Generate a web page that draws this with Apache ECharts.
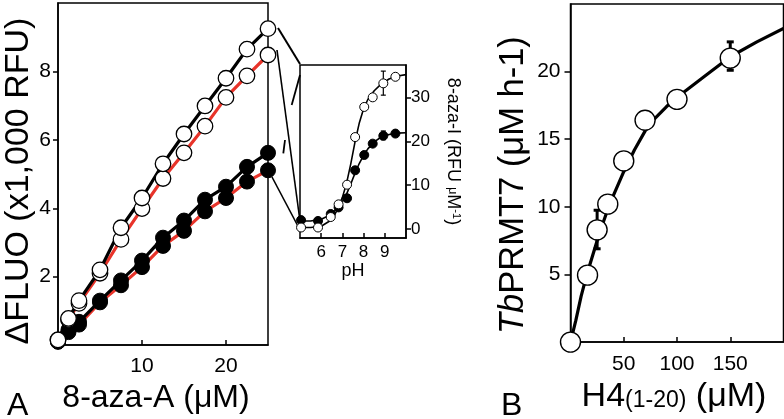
<!DOCTYPE html>
<html><head><meta charset="utf-8">
<script src="https://cdn.jsdelivr.net/npm/echarts@6/dist/echarts.min.js"></script>
<style>html,body{margin:0;padding:0;background:#fff}#c{width:784px;height:419px}</style>
</head><body><div id="c"></div>
<script>
const FONT = '"Liberation Sans", Arial, Helvetica, sans-serif';

// ---- Panel A: 8-aza-A titration ----
const aX = [0, 1.25, 2.5, 5, 7.5, 10, 12.5, 15, 17.5, 20, 22.5, 25];
const aOpenUpper = [0.15, 0.78, 1.3, 2.2, 3.43, 4.3, 5.3, 6.17, 6.99, 7.8, 8.65, 9.25];
const aOpenLower = [0.15, 0.75, 1.22, 2.1, 3.09, 3.99, 4.87, 5.62, 6.4, 7.24, 7.87, 8.48];
const aFilledUpper = [0.1, 0.45, 0.68, 1.3, 1.89, 2.47, 3.14, 3.64, 4.25, 4.63, 5.21, 5.62];
const aFilledLower = [0.1, 0.38, 0.6, 1.25, 1.75, 2.28, 2.9, 3.34, 3.91, 4.3, 4.78, 5.11];
const aXTicks = [10, 20];
const aYTicks = [2, 4, 6, 8];

// ---- Inset: pH dependence ----
const pH = [5.05, 5.85, 6.45, 6.82, 7.22, 7.6, 8.03, 8.43, 8.93, 9.5];
const insetOpen = [0.3, 0.3, 2.7, 5.6, 10.1, 21, 27.9, 30.1, 33.3, 34.8];
const insetFilled = [2.0, 1.8, 3.4, 4.9, 7.0, 13.4, 16.9, 19.5, 21.3, 21.8];
const insetErr = [[8.93, 30.6, 36.1], [8.93, 20.4, 22.4]];
const curvePH = [5.0, 5.5, 6.0, 6.4, 6.7, 7.0, 7.2, 7.4, 7.6, 7.8, 8.0, 8.2, 8.5, 8.8, 9.2, 9.6, 10.0];
const curveOpen = [0.3, 0.3, 0.6, 1.8, 3.8, 7.2, 10.5, 15, 20, 24.3, 27.5, 29.6, 31.6, 33, 34.3, 35, 35.3];
const curveFilled = [1.8, 1.8, 2.2, 3.1, 4.4, 6.2, 8.0, 10.3, 12.8, 15.0, 16.8, 18.3, 19.9, 20.9, 21.6, 21.9, 22.0];
const insetXTicks = [6, 7, 8, 9];
const insetYTicks = [0, 10, 20, 30];

// ---- Panel B: TbPRMT7 kinetics ----
const bX = [0, 16, 25, 35, 50, 70, 100, 150];
const bY = [0, 4.95, 8.3, 10.2, 13.4, 16.4, 17.95, 21.0];
const bErr = [[25, 6.9, 9.75], [150, 20.1, 22.2]];
const bCurveX = [0, 5, 10, 15, 20, 25, 30, 35, 40, 50, 60, 70, 80, 90, 100, 110, 125, 150, 175, 200];
const bCurveY = [0, 1.6, 3.4, 4.9, 6.2, 7.5, 8.7, 9.8, 10.8, 12.6, 14.2, 15.6, 16.6, 17.4, 18.1, 18.7, 19.6, 21.1, 22.2, 23.2];
const bXTicks = [50, 100, 150];
const bYTicks = [5, 10, 15, 20];

const zip = (xs, ys) => xs.map((x, i) => [x, ys[i]]);

function valAxis(o) {
  return {
    type: 'value', gridIndex: o.grid, min: o.min, max: o.max, position: o.position,
    splitLine: { show: false },
    axisLine: { show: true, onZero: false, lineStyle: { color: '#000', width: 1.5 } },
    axisTick: { show: true, inside: o.inside, length: o.tickLen || 5, customValues: o.ticks, lineStyle: { color: '#000', width: 1.5 } },
    axisLabel: { show: true, customValues: o.ticks, color: '#000', fontFamily: FONT, fontSize: o.fs, margin: o.margin },
    name: o.name, nameLocation: 'middle', nameGap: o.nameGap, nameRotate: o.nameRotate,
    nameTextStyle: Object.assign({ color: '#000', fontFamily: FONT, fontSize: o.nameFs }, o.nameStyle || {})
  };
}

function errSeries(xi, yi, data, cap, lw) {
  return {
    type: 'custom', xAxisIndex: xi, yAxisIndex: yi, data: data, z: 4, silent: true,
    encode: { x: 0, y: [1, 2] },
    renderItem: function (params, api) {
      const x = api.value(0), lo = api.value(1), hi = api.value(2);
      const p1 = api.coord([x, lo]), p2 = api.coord([x, hi]);
      const st = { stroke: '#000', lineWidth: lw };
      return { type: 'group', children: [
        { type: 'line', shape: { x1: p1[0], y1: p1[1], x2: p2[0], y2: p2[1] }, style: st },
        { type: 'line', shape: { x1: p1[0] - cap, y1: p1[1], x2: p1[0] + cap, y2: p1[1] }, style: st },
        { type: 'line', shape: { x1: p2[0] - cap, y1: p2[1], x2: p2[0] + cap, y2: p2[1] }, style: st }
      ]};
    }
  };
}

function lineS(xi, yi, data, color, w, z) {
  return { type: 'line', xAxisIndex: xi, yAxisIndex: yi, data: data, symbol: 'none', z: z || 2,
    lineStyle: { color: color, width: w }, silent: true };
}
function dotS(xi, yi, data, filled, size, bw, z) {
  return { type: 'scatter', xAxisIndex: xi, yAxisIndex: yi, data: data, symbol: 'circle', symbolSize: size, z: z || 3,
    itemStyle: { color: filled ? '#000' : '#fff', borderColor: '#000', borderWidth: bw, opacity: 1 }, silent: true };
}

const option = {
  animation: false,
  backgroundColor: '#fff',
  grid: [
    { left: 58, top: 3, width: 210, height: 346, show: true, borderColor: '#000', borderWidth: 1.5 },
    { left: 300, top: 65, width: 106, height: 173, show: true, borderColor: '#000', borderWidth: 1.5 },
    { left: 570.5, top: 4, width: 213, height: 346, show: true, borderColor: '#000', borderWidth: 1.5 }
  ],
  xAxis: [
    valAxis({ grid: 0, min: 0, max: 25, ticks: aXTicks, inside: true, fs: 21, margin: 11,
      name: '8-aza-A (μM)', nameGap: 31, nameFs: 32, nameStyle: { padding: [0, 14, 0, 0] } }),
    valAxis({ grid: 1, min: 5, max: 10, ticks: insetXTicks, inside: true, fs: 17, margin: 6,
      name: 'pH', nameGap: 20, nameFs: 18 }),
    valAxis({ grid: 2, min: 0, max: 200, ticks: bXTicks, inside: true, fs: 21, margin: 12,
      name: 'H4{s|(1-20)} (μM)', nameGap: 30, nameFs: 34,
      nameStyle: { padding: [0, 6, 0, 0], rich: { s: { fontSize: 23, fontFamily: FONT, color: '#000', padding: [7, 0, 0, 0] } } } })
  ],
  yAxis: [
    valAxis({ grid: 0, min: 0, max: 10, ticks: aYTicks, inside: false, fs: 21, margin: 7,
      name: 'ΔFLUO (x1,000 RFU)', nameGap: 20, nameFs: 34, nameStyle: { padding: [0, 14, 0, 0] } }),
    valAxis({ grid: 1, min: -2.1, max: 37.5, ticks: insetYTicks, inside: false, fs: 17, margin: 5, position: 'right',
      name: '8-aza-I (RFU {s|μ}M{sup|-1})', nameGap: 38, nameFs: 18, nameRotate: -90,
      nameStyle: { rich: {
        s: { fontSize: 13, fontFamily: FONT, color: '#000' },
        sup: { fontSize: 11, fontFamily: FONT, color: '#000', verticalAlign: 'top' } } } }),
    valAxis({ grid: 2, min: 0, max: 25, ticks: bYTicks, inside: false, fs: 21, margin: 10, tickLen: 6,
      name: '{i|Tb}PRMT7 (μM h-1)', nameGap: 40, nameFs: 34.5,
      nameStyle: { padding: [0, 24, 0, 0], rich: { i: { fontStyle: 'italic', fontSize: 34.5, fontFamily: FONT, color: '#000' } } } })
  ],
  series: [
    // Panel A lines
    lineS(0, 0, zip(aX, aFilledLower), '#e8342a', 3.2),
    lineS(0, 0, zip(aX, aFilledUpper), '#000', 3.2),
    lineS(0, 0, zip(aX, aOpenLower), '#e8342a', 3.2),
    lineS(0, 0, zip(aX, aOpenUpper), '#000', 3.2),
    // Panel A markers
    dotS(0, 0, zip(aX, aFilledLower), true, 15, 1, 3),
    dotS(0, 0, zip(aX, aFilledUpper), true, 15, 1, 3),
    dotS(0, 0, zip(aX, aOpenLower), false, 15.5, 1.3, 3),
    dotS(0, 0, zip(aX, aOpenUpper), false, 15.5, 1.3, 3),
    // Inset
    lineS(1, 1, zip(curvePH, curveFilled), '#000', 1.6),
    lineS(1, 1, zip(curvePH, curveOpen), '#000', 1.6),
    errSeries(1, 1, insetErr, 2.5, 1.2),
    dotS(1, 1, zip(pH, insetFilled), true, 9, 1, 5),
    dotS(1, 1, zip(pH, insetOpen), false, 9, 1, 5),
    // Panel B
    lineS(2, 2, zip(bCurveX, bCurveY), '#000', 3.2),
    errSeries(2, 2, bErr, 3.5, 3),
    dotS(2, 2, zip(bX, bY), false, 20, 1.4, 5)
  ],
  graphic: [
    { type: 'line', shape: { x1: 278, y1: 28, x2: 300, y2: 64 }, style: { stroke: '#000', lineWidth: 2 }, z: 1 },
    { type: 'line', shape: { x1: 277, y1: 50, x2: 300, y2: 221 }, style: { stroke: '#000', lineWidth: 1.6 }, z: 1 },
    { type: 'line', shape: { x1: 272, y1: 177, x2: 300, y2: 230 }, style: { stroke: '#000', lineWidth: 1.6 }, z: 1 },
    { type: 'line', shape: { x1: 283.3, y1: 153.3, x2: 285, y2: 140 }, style: { stroke: '#000', lineWidth: 1.8 }, z: 1 },
    { type: 'line', shape: { x1: 291.7, y1: 105, x2: 300, y2: 75 }, style: { stroke: '#000', lineWidth: 1.8 }, z: 1 },
    { type: 'text', left: 7, top: 390, style: { text: 'A', fontSize: 32, fontFamily: FONT, fill: '#000' } },
    { type: 'text', left: 501, top: 390, style: { text: 'B', fontSize: 32, fontFamily: FONT, fill: '#000' } }
  ]
};

const chart = echarts.init(document.getElementById('c'), null, { renderer: 'canvas' });
chart.setOption(option);
</script>
</body></html>
